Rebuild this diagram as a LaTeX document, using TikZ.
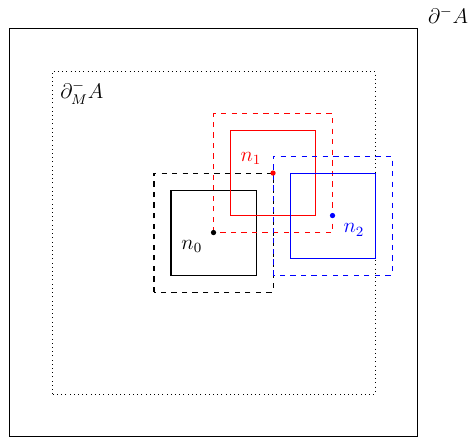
\documentclass[tikz,border=0pt]{standalone}
\usepackage{amsmath, amssymb}
\usepackage{tikz}
\usetikzlibrary{calc}
\tikzset{
    cellbox/.style={line width=0.6pt},
    halobox/.style={line width=0.6pt, dashed},
    bndbox/.style={thin, dotted},
    ctr/.style={circle, fill, inner sep=0pt, minimum size=3pt},
    lbl/.style={font=\large}
}
\begin{document}
\begin{tikzpicture}[x=0.34cm, y=0.34cm]
    \useasboundingbox (-12.56,-12.09) rectangle (15.38,13.68);
    % outer region and its boundary layer
    \draw[line width=0.5pt] (-12,-12) rectangle (12,12);
    \node[lbl] (outer) at (13.8,12.8) {$\partial^- A$};
    \draw[bndbox] (-9.5,-9.5) rectangle (9.5,9.5);
    \node[lbl, anchor=north west, inner sep=2pt, xshift=2.5pt, yshift=-3.5pt] (inner) at (-9.5,9.5) {$\partial^-_M A$};
    % centres
    \coordinate (c0) at (0,0);
    \coordinate (c1) at (3.5,3.5);
    \coordinate (c2) at (7,1);
    % cells with their halos
    \draw[cellbox, draw=black] ($(c0)+(-2.5,-2.5)$) rectangle ($(c0)+(2.5,2.5)$);
    \draw[halobox, draw=black] ($(c0)+(-3.5,-3.5)$) rectangle ($(c0)+(3.5,3.5)$);
    \draw[cellbox, draw=red] ($(c1)+(-2.5,-2.5)$) rectangle ($(c1)+(2.5,2.5)$);
    \draw[halobox, draw=red] ($(c1)+(-3.5,-3.5)$) rectangle ($(c1)+(3.5,3.5)$);
    \draw[cellbox, draw=blue] ($(c2)+(-2.5,-2.5)$) rectangle ($(c2)+(2.5,2.5)$);
    \draw[halobox, draw=blue] ($(c2)+(-3.5,-3.5)$) rectangle ($(c2)+(3.5,3.5)$);
    % nodes
    \node[ctr, fill=black] (n0) at (c0) {};
    \node[ctr, fill=red] (n1) at (c1) {};
    \node[ctr, fill=blue] (n2) at (c2) {};
    \node[lbl] (l0) at ($(n0)+(-1.28,-0.82)$) {$n_0$};
    \node[lbl, red] (l1) at ($(n1)+(-1.3,0.86)$) {$n_1$};
    \node[lbl, blue] (l2) at ($(n2)+(1.26,-0.85)$) {$n_2$};
\end{tikzpicture}
\end{document}
